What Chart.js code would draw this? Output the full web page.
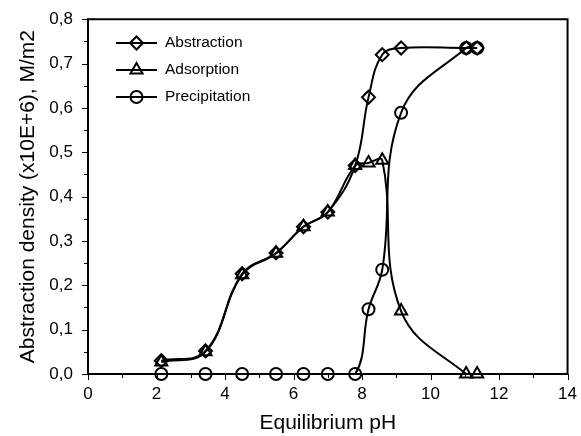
<!DOCTYPE html>
<html>
<head>
<meta charset="utf-8">
<script src="https://cdn.jsdelivr.net/npm/chart.js@4/dist/chart.umd.min.js"></script>
<style>
html,body{margin:0;padding:0;background:#fff;}
#wrap{width:581px;height:436px;position:relative;}
</style>
</head>
<body>
<div id="wrap"><canvas id="c" width="581" height="436"></canvas></div>
<script>
// Equilibrium pH (shared by all series)
const phValues = [2.14, 3.43, 4.50, 5.49, 6.29, 7.00, 7.80, 8.19, 8.59, 9.14, 11.04, 11.36];
const abstraction = [0.030, 0.052, 0.226, 0.273, 0.332, 0.365, 0.470, 0.624, 0.720, 0.735, 0.735, 0.735];
const adsorption = [0.027, 0.050, 0.224, 0.272, 0.332, 0.365, 0.470, 0.476, 0.482, 0.142, 0.000, 0.000];
const precipitation = [0.000, 0.000, 0.000, 0.000, 0.000, 0.000, 0.000, 0.146, 0.235, 0.589, 0.735, 0.735];
const seriesNames = ['Abstraction', 'Adsorption', 'Precipitation'];
const xTitle = 'Equilibrium pH';
const yTitle = 'Abstraction density (x10E+6), M/m2';

const FONT = "'Liberation Sans', Arial, sans-serif";
const styles = [
  {pointStyle: 'rectRot', radius: 6.5},
  {pointStyle: 'triangle', radius: 7},
  {pointStyle: 'circle', radius: 6}
];
const seriesValues = [abstraction, adsorption, precipitation];

const datasets = seriesValues.map((vals, i) => ({
  label: seriesNames[i],
  data: phValues.map((x, j) => ({x: x, y: vals[j]})),
  showLine: true,
  borderColor: '#000',
  borderWidth: 2,
  tension: 0.4,
  pointStyle: styles[i].pointStyle,
  pointRadius: styles[i].radius,
  pointHoverRadius: styles[i].radius,
  pointBorderWidth: 2,
  pointBorderColor: '#000',
  pointBackgroundColor: 'rgba(255,255,255,0)',
  clip: 8
}));

const framePlugin = {
  id: 'frame',
  afterDraw(chart) {
    const ctx = chart.ctx;
    const a = chart.chartArea;
    const xs = chart.scales.x, ys = chart.scales.y;
    ctx.save();
    ctx.strokeStyle = '#000';
    ctx.lineWidth = 2;
    ctx.beginPath();
    ctx.moveTo(a.left, a.top); ctx.lineTo(a.right, a.top); ctx.lineTo(a.right, a.bottom);
    ctx.stroke();
    // tick marks (major and minor), outward
    ctx.lineWidth = 1;
    for (let v = 0; v <= 14.001; v += 1) {
      const px = Math.round(xs.getPixelForValue(v)) + 0.5;
      const major = Math.round(v) % 2 === 0;
      ctx.beginPath(); ctx.moveTo(px, a.bottom); ctx.lineTo(px, a.bottom + (major ? 6 : 4)); ctx.stroke();
    }
    for (let k = 0; k <= 16; k++) {
      const py = Math.round(ys.getPixelForValue(k * 0.05)) + 0.5;
      const major = k % 2 === 0;
      ctx.beginPath(); ctx.moveTo(a.left, py); ctx.lineTo(a.left - (major ? 6 : 4), py); ctx.stroke();
    }
    // legend inside plot
    const rows = [43, 70, 97];
    ctx.font = '15.5px ' + FONT;
    ctx.textBaseline = 'middle';
    rows.forEach((y, i) => {
      ctx.lineWidth = 2;
      ctx.strokeStyle = '#000';
      ctx.beginPath(); ctx.moveTo(116, y); ctx.lineTo(157, y); ctx.stroke();
      ctx.fillStyle = 'rgba(255,255,255,0)';
      Chart.helpers.drawPoint(ctx, {pointStyle: styles[i].pointStyle, radius: styles[i].radius, borderWidth: 2, rotation: 0}, 136.5, y);
      ctx.fillStyle = '#000';
      ctx.fillText(seriesNames[i], 165, y);
    });
    ctx.restore();
  }
};

new Chart(document.getElementById('c'), {
  type: 'scatter',
  data: {datasets},
  plugins: [framePlugin],
  options: {
    responsive: false,
    animation: false,
    events: [],
    layout: {padding: {top: 17, right: 12, left: 0, bottom: 0}},
    plugins: {legend: {display: false}, tooltip: {enabled: false}},
    scales: {
      x: {
        type: 'linear', min: 0, max: 14,
        afterFit(s) { s.height = 62; },
        border: {display: true, color: '#000', width: 2},
        grid: {display: true, drawOnChartArea: false, drawTicks: true, tickLength: 6, color: 'rgba(0,0,0,0)'},
        ticks: {
          stepSize: 1, autoSkip: false, maxRotation: 0, padding: 4,
          color: '#000', font: {family: FONT, size: 17},
          callback: v => (Math.round(v) % 2 === 0 ? String(v) : '')
        },
        title: {display: true, text: xTitle, color: '#000', font: {family: FONT, size: 21}, padding: {top: 0, bottom: 0}}
      },
      y: {
        type: 'linear', min: 0, max: 0.8,
        afterFit(s) { s.width = 88; },
        border: {display: true, color: '#000', width: 2},
        grid: {display: true, drawOnChartArea: false, drawTicks: true, tickLength: 6, color: 'rgba(0,0,0,0)'},
        ticks: {
          stepSize: 0.05, autoSkip: false, padding: 9,
          color: '#000', font: {family: FONT, size: 17},
          callback: v => (Math.round(v * 20) % 2 === 0 ? v.toFixed(1).replace('.', ',') : '')
        },
        title: {display: true, text: yTitle, color: '#000', font: {family: FONT, size: 21}, padding: {top: 16, bottom: 0}}
      }
    }
  }
});
</script>
</body>
</html>
